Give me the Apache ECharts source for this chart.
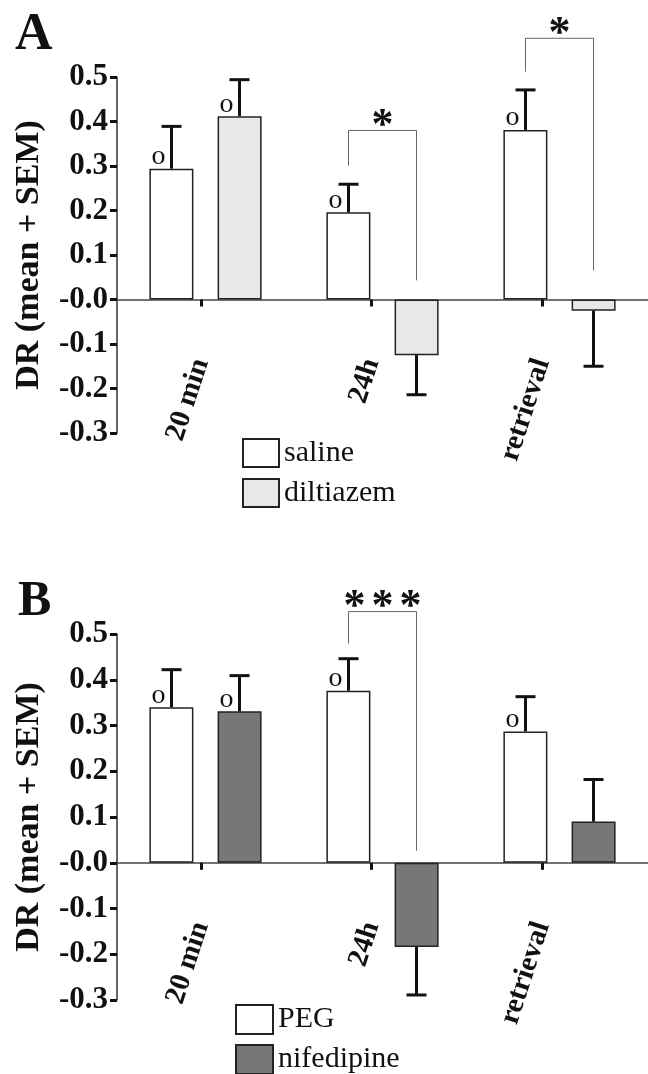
<!DOCTYPE html>
<html>
<head>
<meta charset="utf-8">
<script src="https://cdn.jsdelivr.net/npm/echarts@6/dist/echarts.min.js"></script>
<style>
html,body{margin:0;padding:0;background:#fff;}
#chart{width:648px;height:1074px;}
</style>
</head>
<body>
<div id="chart"></div>
<script>
// ---------- data ----------
var categories = ['20 min', '24h', 'retrieval'];
var yTickLabels = ['-0.3', '-0.2', '-0.1', '-0.0', '0.1', '0.2', '0.3', '0.4', '0.5'];

// Panel A
var salineMean = [0.294, 0.196, 0.381];
var salineSem = [0.095, 0.063, 0.090];
var salineMark = ['o', 'o', 'o'];
var diltiazemMean = [0.412, -0.125, -0.025];
var diltiazemSem = [0.082, 0.089, 0.125];
var diltiazemMark = ['o', '', ''];
var sigCatA = [1, 2];
var sigTopA = [0.380, 0.587];
var sigLeftEndA = [0.301, 0.512];
var sigRightEndA = [0.043, 0.065];
var sigStarsA = [1, 1];

// Panel B
var pegMean = [0.340, 0.376, 0.287];
var pegSem = [0.082, 0.070, 0.076];
var pegMark = ['o', 'o', 'o'];
var nifedipineMean = [0.331, -0.184, 0.090];
var nifedipineSem = [0.078, 0.105, 0.092];
var nifedipineMark = ['o', '', ''];
var sigCatB = [1];
var sigTopB = [0.549];
var sigLeftEndB = [0.479];
var sigRightEndB = [0.026];
var sigStarsB = [3];

// ---------- styling ----------
var SERIF = "'Liberation Serif', 'Times New Roman', serif";
var BAR_W = 44;
var HALF_PAIR = 34; // distance from category centre to each bar centre
var STAR_STEP = 28;

function barData(means, marks) {
  return means.map(function (v, i) {
    return {
      value: v,
      label: {
        show: marks[i] !== '',
        formatter: marks[i] || ''
      }
    };
  });
}

function errData(means, sems, side) {
  return means.map(function (v, i) { return [i, v, sems[i], side]; });
}

function errRender(params, api) {
  var cat = api.value(0), m = api.value(1), s = api.value(2), side = api.value(3);
  var end = m >= 0 ? m + s : m - s;
  var p0 = api.coord([cat, m]);
  var p1 = api.coord([cat, end]);
  var x = p0[0] + side * HALF_PAIR;
  var st = { stroke: '#111', lineWidth: 3 };
  return {
    type: 'group',
    children: [
      { type: 'line', shape: { x1: x, y1: p0[1], x2: x, y2: p1[1] }, style: st },
      { type: 'line', shape: { x1: x - 10, y1: p1[1], x2: x + 10, y2: p1[1] }, style: st }
    ]
  };
}

function sigData(cats, tops, lefts, rights, stars) {
  return cats.map(function (c, i) { return [c, tops[i], lefts[i], rights[i], stars[i]]; });
}

function sigRender(params, api) {
  var cat = api.value(0);
  var n = api.value(4);
  var pt = api.coord([cat, api.value(1)]);
  var pl = api.coord([cat, api.value(2)]);
  var pr = api.coord([cat, api.value(3)]);
  var xl = pt[0] - HALF_PAIR, xr = pt[0] + HALF_PAIR;
  var st = { stroke: '#666', lineWidth: 1, fill: null };
  var children = [
    { type: 'polyline', shape: { points: [[xl, pl[1]], [xl, pt[1]], [xr, pt[1]], [xr, pr[1]]] }, style: st }
  ];
  for (var k = 0; k < n; k++) {
    children.push({
      type: 'text', x: pt[0] + (k - (n - 1) / 2) * STAR_STEP, y: pt[1] + 18,
      style: { text: '*', fill: '#111', font: 'bold 44px ' + SERIF, align: 'center', verticalAlign: 'bottom' }
    });
  }
  return { type: 'group', children: children };
}

function yAxisMain(gi) {
  return {
    gridIndex: gi, type: 'value', min: -0.3, max: 0.5, interval: 0.1,
    name: 'DR (mean + SEM)', nameLocation: 'middle', nameGap: 71,
    nameTextStyle: { fontFamily: SERIF, fontWeight: 'bold', fontSize: 34, color: '#111' },
    axisLine: { show: true, lineStyle: { color: '#333', width: 1.5 } },
    axisTick: { show: true, length: 7, lineStyle: { color: '#111', width: 3 } },
    axisLabel: {
      margin: 9, fontFamily: SERIF, fontWeight: 'bold', fontSize: 31, color: '#111',
      formatter: function (v) { return yTickLabels[Math.round(v * 10) + 3]; }
    },
    splitLine: { show: false }
  };
}
function yAxisHidden(gi) {
  return { gridIndex: gi, type: 'value', min: 0, max: 1, show: false };
}
function xAxisBars(gi) {
  return {
    gridIndex: gi, type: 'category', data: categories,
    axisLine: { onZero: true, lineStyle: { color: '#444', width: 1.5 } },
    axisTick: { show: false }, axisLabel: { show: false }
  };
}
function xAxisTicks(gi) {
  return {
    gridIndex: gi, type: 'category', data: categories, boundaryGap: false,
    axisLine: { show: false, onZero: false },
    axisTick: { show: true, length: 7, lineStyle: { color: '#111', width: 3 } },
    axisLabel: { interval: 0, rotate: 72, margin: 60, fontFamily: SERIF, fontWeight: 'bold',
                 fontSize: 29, color: '#111' }
  };
}

var labelStyle = { position: 'top', distance: 0, offset: [-13, 2], fontFamily: SERIF, fontSize: 28, color: '#111' };

function barSeries(name, xi, yi, means, marks, color) {
  return {
    name: name, type: 'bar', xAxisIndex: xi, yAxisIndex: yi,
    barWidth: BAR_W, barGap: '55%',
    itemStyle: { color: color, borderColor: '#222', borderWidth: 1.5 },
    label: labelStyle,
    data: barData(means, marks)
  };
}

function legendItem(name, left, top, w, h) {
  return {
    data: [name], orient: 'vertical', left: left, top: top, padding: 0,
    itemWidth: w, itemHeight: h, icon: 'rect', selectedMode: false,
    textStyle: { fontFamily: SERIF, fontSize: 30, color: '#111' }
  };
}

var option = {
  animation: false,
  backgroundColor: '#fff',
  graphic: [
    { type: 'text', left: 15, top: 10, style: { text: 'A', font: 'bold 52px ' + SERIF, fill: '#111' } },
    { type: 'text', left: 18, top: 577, style: { text: 'B', font: 'bold 50px ' + SERIF, fill: '#111' } }
  ],
  grid: [
    { left: 117, right: 0, top: 77, height: 356, outerBoundsMode: 'none' },
    { left: 201, right: 106, top: 77, height: 222.5, outerBoundsMode: 'none' },
    { left: 117, right: 0, top: 634, height: 366, outerBoundsMode: 'none' },
    { left: 201, right: 106, top: 634, height: 228.75, outerBoundsMode: 'none' }
  ],
  xAxis: [xAxisBars(0), xAxisTicks(1), xAxisBars(2), xAxisTicks(3)],
  yAxis: [yAxisMain(0), yAxisHidden(1), yAxisMain(2), yAxisHidden(3)],
  legend: [
    legendItem('saline', 242, 438, 36, 28),
    legendItem('diltiazem', 242, 478, 36, 28),
    legendItem('PEG', 235, 1004, 37, 29),
    legendItem('nifedipine', 235, 1044, 37, 29)
  ],
  series: [
    barSeries('saline', 0, 0, salineMean, salineMark, '#ffffff'),
    barSeries('diltiazem', 0, 0, diltiazemMean, diltiazemMark, '#e8e8e8'),
    { type: 'custom', xAxisIndex: 0, yAxisIndex: 0, renderItem: errRender, z: 5,
      data: errData(salineMean, salineSem, -1).concat(errData(diltiazemMean, diltiazemSem, 1)) },
    { type: 'custom', xAxisIndex: 0, yAxisIndex: 0, renderItem: sigRender, clip: false, z: 5,
      data: sigData(sigCatA, sigTopA, sigLeftEndA, sigRightEndA, sigStarsA) },
    barSeries('PEG', 2, 2, pegMean, pegMark, '#ffffff'),
    barSeries('nifedipine', 2, 2, nifedipineMean, nifedipineMark, '#777777'),
    { type: 'custom', xAxisIndex: 2, yAxisIndex: 2, renderItem: errRender, z: 5,
      data: errData(pegMean, pegSem, -1).concat(errData(nifedipineMean, nifedipineSem, 1)) },
    { type: 'custom', xAxisIndex: 2, yAxisIndex: 2, renderItem: sigRender, clip: false, z: 5,
      data: sigData(sigCatB, sigTopB, sigLeftEndB, sigRightEndB, sigStarsB) }
  ]
};

var chart = echarts.init(document.getElementById('chart'), null, { renderer: 'canvas' });
chart.setOption(option);
</script>
</body>
</html>
